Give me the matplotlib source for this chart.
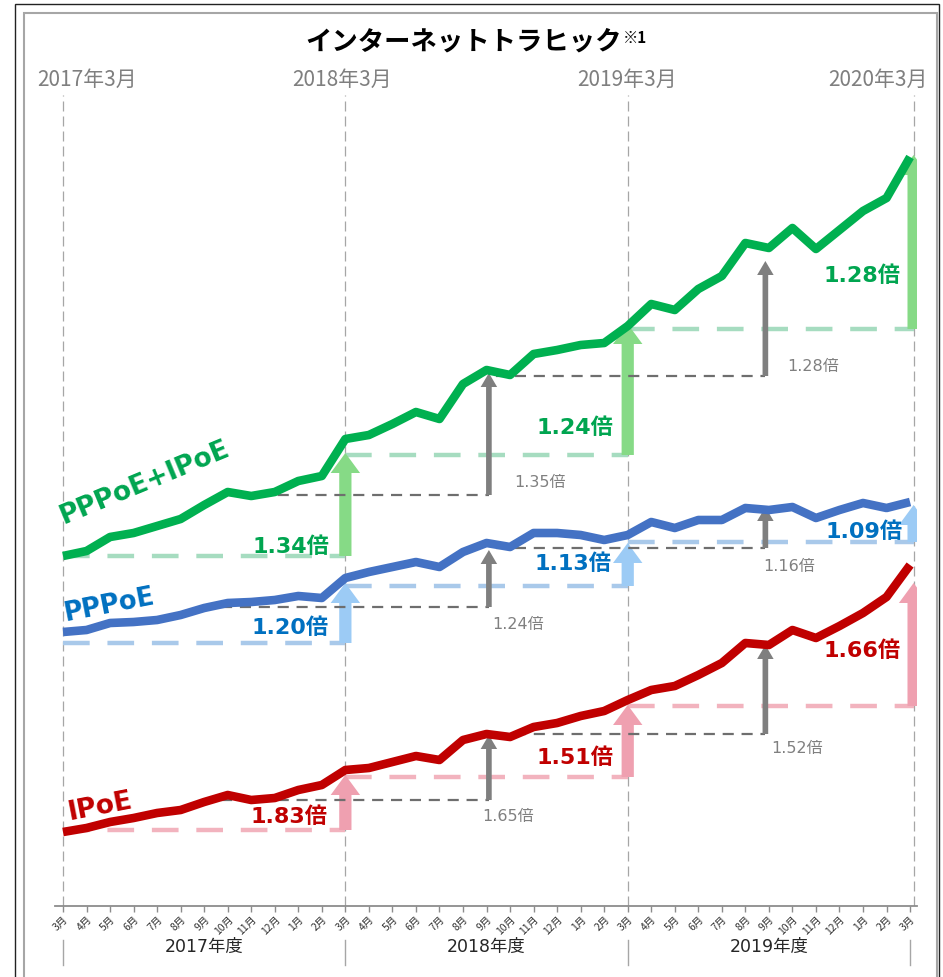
import matplotlib
matplotlib.use("Agg")
import matplotlib.pyplot as plt
from matplotlib.patches import FancyArrow, Rectangle
from matplotlib.lines import Line2D

plt.rcParams['font.family'] = ['DejaVu Sans', 'Noto Sans CJK JP']

# ---------------- data ----------------
month_labels = ['3月', '4月', '5月', '6月', '7月', '8月', '9月', '10月', '11月', '12月', '1月', '2月'] * 3 + ['3月']
fiscal_years = ['2017年度', '2018年度', '2019年度']
top_labels = ['2017年3月', '2018年3月', '2019年3月', '2020年3月']

# traffic index (relative units)
total = [374, 379, 393, 397, 404, 411, 425, 438, 434, 438, 449, 454, 491, 495, 506, 518, 511, 546,
         560, 555, 576, 580, 585, 587, 604, 626, 620, 641, 654, 687, 682, 702, 681, 700, 719, 732, 773]
pppoe = [298, 300, 307, 308, 310, 315, 322, 327, 328, 330, 334, 332, 352, 358, 363, 368, 363, 378,
         387, 383, 397, 397, 395, 390, 395, 408, 402, 410, 410, 422, 420, 423, 412, 420, 427, 422, 428]
ipoe = [98, 102, 108, 112, 117, 120, 128, 135, 130, 132, 140, 145, 160, 162, 168, 174, 170, 190,
        196, 193, 203, 207, 214, 219, 230, 240, 244, 255, 267, 287, 285, 300, 292, 304, 317, 333, 365]

# yearly (March→March) comparison: base level, arrow tip, ratio label
total_base = [374, 475, 601]
total_tip = [477, 606, 775]
total_ratio = ['1.34倍', '1.24倍', '1.28倍']
pppoe_base = [287, 344, 388]
pppoe_tip = [347, 387, 425]
pppoe_ratio = ['1.20倍', '1.13倍', '1.09倍']
ipoe_base = [100, 153, 224]
ipoe_tip = [155, 225, 347]
ipoe_ratio = ['1.83倍', '1.51倍', '1.66倍']

# mid-year (Sep/Oct) comparison: base level, arrow tip, ratio label
total_mid_base = [435, 554]
total_mid_tip = [557, 669]
total_mid_ratio = ['1.35倍', '1.28倍']
pppoe_mid_base = [323, 382]
pppoe_mid_tip = [380, 423]
pppoe_mid_ratio = ['1.24倍', '1.16倍']
ipoe_mid_base = [130, 196]
ipoe_mid_tip = [195, 285]
ipoe_mid_ratio = ['1.65倍', '1.52倍']

# ---------------- layout helpers ----------------
W, H = 943, 977
PX_PER_MONTH = 23.53
X0 = 63


def X(px):
    return (px - X0) / PX_PER_MONTH


def Y(py):
    return 930 - py


fig = plt.figure(figsize=(W / 100, H / 100), dpi=100)
fig.patch.set_facecolor('white')
ax = fig.add_axes([55 / W, (H - 906) / H, 862 / W, 811 / H])
ax.set_xlim(X(55), X(917))
ax.set_ylim(Y(906), Y(95))
for s in ['left', 'right', 'top']:
    ax.spines[s].set_visible(False)
ax.spines['bottom'].set_color('#8C8C8C')
ax.spines['bottom'].set_linewidth(1.3)
ax.set_yticks([])
months = list(range(len(month_labels)))
ax.set_xticks(months)
ax.set_xticklabels(month_labels, rotation=45, ha='right', rotation_mode='anchor',
                   fontsize=7.5, color='#333333', family=['Noto Sans CJK JP'])
ax.tick_params(axis='x', length=4, width=1, color='#8C8C8C', pad=2)

# vertical year gridlines
for xi in [0, 12, 24, 36.15]:
    ax.axvline(xi, color='#A6A6A6', lw=0.9, ls=(0, (8, 4)), zorder=1)

# colors
GREEN, BLUE, RED = '#00B050', '#4472C4', '#C00000'
LGREEN, LBLUE, LPINK = '#86DA86', '#9CCBF5', '#EFA0B0'
DGREEN, DBLUE, DPINK = '#A6DCC0', '#A9C9EA', '#F2B3BE'
LBL_GREEN, LBL_BLUE, LBL_RED = '#00A550', '#0070C0', '#C00000'
GRAY_ARROW, GRAY_DASH, GRAY_TXT = '#7F7F7F', '#6E6E6E', '#808080'

year_x = [12, 24, 36.15]
year_start = [0, 12, 24]


def year_arrows(base, tip, dcolor, acolor):
    for xs, xe, b, t in zip(year_start, year_x, base, tip):
        ax.plot([xs, xe], [b, b], color=dcolor, lw=3.2, ls=(0, (6, 4)), zorder=2,
                solid_capstyle='butt', dash_capstyle='butt')
        ax.add_patch(FancyArrow(xe, b, 0, t - b, width=0.52, head_width=1.25,
                                head_length=20, length_includes_head=True,
                                color=acolor, lw=0, zorder=3))


mid_start = [6.7, 18.4]
mid_x = [18.1, 29.85]


def mid_arrows(base, tip):
    for xs, xe, b, t in zip(mid_start, mid_x, base, tip):
        ax.plot([xs, xe], [b, b], color=GRAY_DASH, lw=1.6, ls=(0, (5, 3.5)), zorder=4)
        ax.add_patch(FancyArrow(xe, b, 0, t - b, width=0.24, head_width=0.7,
                                head_length=14, length_includes_head=True,
                                color=GRAY_ARROW, lw=0, zorder=4))


year_arrows(total_base, total_tip, DGREEN, LGREEN)
year_arrows(pppoe_base, pppoe_tip, DBLUE, LBLUE)
year_arrows(ipoe_base, ipoe_tip, DPINK, LPINK)
mid_arrows(total_mid_base, total_mid_tip)
mid_arrows(pppoe_mid_base, pppoe_mid_tip)
mid_arrows(ipoe_mid_base, ipoe_mid_tip)

# main lines
for ser, col in [(total, GREEN), (pppoe, BLUE), (ipoe, RED)]:
    ax.plot(months, ser, color=col, lw=6.2, solid_joinstyle='round', solid_capstyle='butt', zorder=5)

# ratio labels (yearly)
year_lbl_pos = {
    'total': [(291, 547), (575, 428), (862, 276)],
    'pppoe': [(290, 628), (573, 564), (864, 532)],
    'ipoe': [(289, 817), (575, 758), (862, 651)],
}
for key, ratios, col in [('total', total_ratio, LBL_GREEN), ('pppoe', pppoe_ratio, LBL_BLUE),
                         ('ipoe', ipoe_ratio, LBL_RED)]:
    for (px, py), r in zip(year_lbl_pos[key], ratios):
        ax.text(X(px), Y(py), r, color=col, fontsize=16, fontweight='bold',
                ha='center', va='center', zorder=6)

mid_lbl_pos = {
    'total': [(540, 482), (813, 367)],
    'pppoe': [(518, 624), (789, 567)],
    'ipoe': [(508, 817), (797, 748)],
}
for key, ratios in [('total', total_mid_ratio), ('pppoe', pppoe_mid_ratio), ('ipoe', ipoe_mid_ratio)]:
    for (px, py), r in zip(mid_lbl_pos[key], ratios):
        ax.text(X(px), Y(py), r, color=GRAY_TXT, fontsize=11.5,
                ha='center', va='center', zorder=6)

# series labels
ax.text(X(64), Y(524), 'PPPoE+IPoE', color=LBL_GREEN, fontsize=19, fontweight='bold',
        rotation=22.5, rotation_mode='anchor', ha='left', va='baseline', zorder=6)
ax.text(X(66), Y(621), 'PPPoE', color=LBL_BLUE, fontsize=18.5, fontweight='bold',
        rotation=11, rotation_mode='anchor', ha='left', va='baseline', zorder=6)
ax.text(X(70), Y(820), 'IPoE', color=LBL_RED, fontsize=19, fontweight='bold',
        rotation=11, rotation_mode='anchor', ha='left', va='baseline', zorder=6)

# top date labels
for (px, lab) in zip([87, 342, 627, 878], top_labels):
    fig.text(px / W, 1 - 80 / H, lab, ha='center', va='center', fontsize=15,
             color='#7F7F7F', family=['Noto Sans CJK JP'])

# title
fig.text(622 / W, 1 - 42 / H, 'インターネットトラヒック', ha='right', va='center',
         fontsize=19, fontweight='bold', color='#000000', family=['Noto Sans CJK JP'])
fig.text(623 / W, 1 - 38 / H, '※1', ha='left', va='center',
         fontsize=11, fontweight='bold', color='#000000', family=['Noto Sans CJK JP'])

# fiscal year labels and separators
for xs, lab in zip([6, 18, 30], fiscal_years):
    ax.text(xs, Y(947), lab, ha='center', va='center', fontsize=12.5, color='#262626',
            clip_on=False)
for xi in [0, 12, 24, 36]:
    ax.add_line(Line2D([xi, xi], [Y(940), Y(965)], color='#A6A6A6', lw=1.0, clip_on=False))

# frames
fig.add_artist(Rectangle((15 / W, -0.02), (939 - 15) / W, 1 - 4 / H + 0.02,
                         transform=fig.transFigure, fill=False, edgecolor='#222222', lw=1.0))
fig.add_artist(Rectangle((24 / W, -0.02), (937 - 24) / W, 1 - 13 / H + 0.02,
                         transform=fig.transFigure, fill=False, edgecolor='#A6A6A6', lw=1.5))

fig.savefig('out.png', dpi=100)
